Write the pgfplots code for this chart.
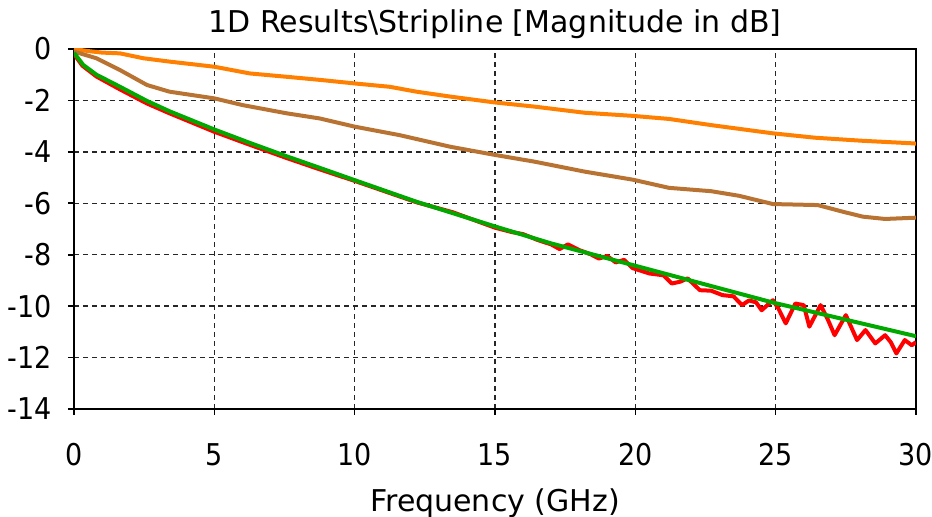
\documentclass[border=0pt]{standalone}
\usepackage{fontspec}
\setmainfont{DejaVu Sans}
\newfontfamily\tickfont{DejaVu Sans Condensed}
\usepackage{pgfplots}
\pgfplotsset{compat=1.18}
\definecolor{sorange}{HTML}{FF8000}
\definecolor{sbrown}{HTML}{B87333}
\definecolor{sred}{HTML}{FF0000}
\definecolor{sgreen}{HTML}{00A800}

\begin{document}
\fontsize{15}{18}\selectfont
\begin{tikzpicture}
\begin{axis}[
  name=ax,
  scale only axis,
  width=421pt, height=180pt,
  xmin=0, xmax=30, ymin=-14, ymax=0,
  xtick={0,5,...,30}, ytick={-14,-12,...,0},
  xtick pos=left, ytick pos=left,
  tick align=outside, major tick length=3pt,
  tick style={black, line width=0.8pt},
  axis line style={black, line width=0.8pt},
  grid=major,
  major grid style={black!85, line width=0.7pt, dash pattern=on 2.5pt off 2pt},
  /pgf/number format/assume math mode=true,
  ticklabel style={font=\tickfont},
  xticklabel style={anchor=base, yshift=-25.5pt},
  yticklabel style={anchor=base east, inner sep=0pt, xshift=-8pt, yshift=-5.5pt},
  title={1D Results\textbackslash Stripline [Magnitude in dB]},
  title style={at={(0.5,1)}, anchor=base, yshift=2pt, inner sep=0pt},
  xlabel={Frequency (GHz)},
  xlabel style={at={(0.5,0)}, anchor=base, yshift=-51.5pt, inner sep=0pt},
  every axis plot/.append style={line width=2pt, line join=round},
]
\addplot[sorange] coordinates {
  (0,0) (0.5,-0.08) (1.0,-0.14) (1.64,-0.17) (2.47,-0.36) (3.4,-0.49) (5.0,-0.69)
  (6.26,-0.95) (7.57,-1.08) (8.75,-1.2) (10.0,-1.34) (11.25,-1.47) (12.2,-1.66)
  (13.4,-1.85) (15.0,-2.08) (16.4,-2.24) (18.2,-2.48) (19.9,-2.6) (21.2,-2.72)
  (22.7,-2.96) (24.9,-3.28) (26.4,-3.45) (28.1,-3.57) (29.9,-3.67) (30,-3.68)
};
\addplot[sbrown] coordinates {
  (0,-0.1) (0.8,-0.36) (1.64,-0.82) (2.6,-1.4) (3.4,-1.66) (5.0,-1.92) (6.0,-2.18)
  (7.57,-2.5) (8.75,-2.7) (10.0,-3.02) (11.6,-3.35) (13.4,-3.8) (15.0,-4.12)
  (16.4,-4.38) (18.2,-4.77) (19.9,-5.08) (21.2,-5.4) (22.7,-5.53) (23.7,-5.71)
  (24.9,-6.03) (26.5,-6.07) (27.4,-6.33) (28.1,-6.52) (28.9,-6.61) (30,-6.56)
};
\addplot[sred] coordinates {
  (0,-0.2) (0.3,-0.65) (0.8,-1.07) (1.6,-1.55) (2.6,-2.12) (3.4,-2.5) (5,-3.22)
  (6.3,-3.74) (7.6,-4.25) (8.75,-4.68) (10,-5.13) (12.2,-5.96) (13.5,-6.35)
  (15,-6.95) (15.6,-7.12) (16.0,-7.2) (16.5,-7.42) (17.0,-7.6) (17.3,-7.78)
  (17.6,-7.6) (18.0,-7.82) (18.4,-7.98) (18.7,-8.15) (19.0,-8.05) (19.3,-8.3)
  (19.6,-8.2) (19.9,-8.52) (20.5,-8.73) (21.0,-8.8) (21.3,-9.12) (21.6,-9.05)
  (21.86,-8.92) (22.3,-9.38) (22.7,-9.4) (23.1,-9.57) (23.5,-9.62) (23.8,-9.96)
  (24.05,-9.78) (24.3,-9.85) (24.5,-10.16) (24.9,-9.77) (25.1,-10.1) (25.36,-10.67)
  (25.7,-9.9) (26.0,-9.96) (26.2,-10.8) (26.6,-9.96) (26.85,-10.5) (27.1,-11.13)
  (27.5,-10.35) (27.9,-11.32) (28.2,-10.93) (28.55,-11.45) (28.9,-11.13)
  (29.1,-11.4) (29.3,-11.84) (29.6,-11.32) (29.85,-11.52) (30,-11.4)
};
\addplot[sgreen] coordinates {
  (0,-0.15) (0.33,-0.62) (0.8,-1.0) (1.64,-1.47) (2.6,-2.02) (3.4,-2.42) (5,-3.13)
  (6.26,-3.65) (7.57,-4.17) (8.75,-4.62) (10,-5.1) (12.2,-5.94) (15,-6.9)
  (17,-7.56) (19.9,-8.4) (24.9,-9.86) (30,-11.17)
};
\end{axis}
\pgfresetboundingbox
\path[use as bounding box] ([xshift=-37pt,yshift=-54pt]ax.south west)
  rectangle ([xshift=8pt,yshift=24.5pt]ax.north east);
\end{tikzpicture}
\end{document}
